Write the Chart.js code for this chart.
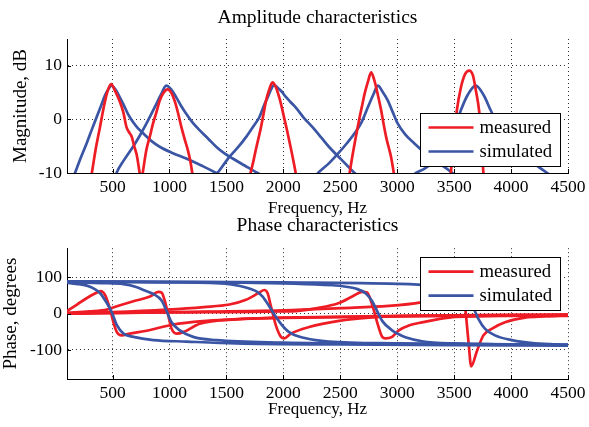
<!DOCTYPE html>
<html><head><meta charset="utf-8">
<script src="https://cdn.jsdelivr.net/npm/chart.js@4.4.1/dist/chart.umd.min.js"></script>
<style>
html,body{margin:0;padding:0;background:#fff;}
#wrap{position:relative;width:589px;height:427px;overflow:hidden;background:#fff;}
.box{position:absolute;left:0;width:589px;}
canvas{display:block;}
</style></head><body>
<div id="wrap">
<div class="box" style="top:0;height:220px"><canvas id="c1" width="589" height="220"></canvas></div>
<div class="box" style="top:212px;height:215px"><canvas id="c2" width="589" height="215"></canvas></div>
</div>
<script>
// ---------- DATA ----------
const seriesNames = ['measured', 'simulated'];
const freqTicks = [500, 1000, 1500, 2000, 2500, 3000, 3500, 4000, 4500];
const ampTicks = [-10, 0, 10];
const phaseTicks = [-100, 0, 100];

// Amplitude, measured (Hz / dB), one array per resonance
const ampMeasHz1 = [300, 318, 350, 390, 425, 455, 488, 520, 566, 595, 622, 645, 668, 690, 712, 738, 755];
const ampMeasDb1 = [-12, -10, -5.8, -1.4, 2.5, 5.2, 6.6, 5.4, 3.2, 1.3, -1.4, -2.4, -3.2, -5, -6.6, -10, -12.5];
const ampMeasHz2 = [750, 765, 797, 830, 855, 885, 914, 945, 985, 1015, 1045, 1075, 1104, 1135, 1161, 1185, 1200, 1215];
const ampMeasDb2 = [-12, -10, -5.7, -3, -0.8, 1.3, 3.5, 4.9, 5.6, 5.0, 3.5, 1.2, -1.4, -3.8, -5.7, -8, -10, -12];
const ampMeasHz3 = [1690, 1712, 1740, 1760, 1782, 1804, 1826, 1848, 1875, 1905, 1935, 1964, 1986, 2008, 2030, 2051, 2075, 2100, 2125];
const ampMeasDb3 = [-12, -10, -7.5, -5.5, -3.5, -1.4, 1.0, 3.5, 5.5, 6.9, 6.0, 4.1, 2.3, 0.2, -1.8, -3.9, -6.3, -9, -12];
const ampMeasHz4 = [2565, 2582, 2605, 2626, 2650, 2670, 2692, 2714, 2745, 2771, 2795, 2815, 2838, 2859, 2880, 2903, 2925, 2946, 2970, 2985];
const ampMeasDb4 = [-12, -10, -7, -4.5, -1.8, 0.4, 2.6, 4.8, 7.2, 8.8, 7.6, 6.0, 3.8, 1.7, -0.8, -3.3, -5.2, -7, -10, -12];
const ampMeasHz5 = [3460, 3471, 3495, 3524, 3560, 3595, 3632, 3665, 3690, 3720, 3740, 3757, 3770];
const ampMeasDb5 = [-12, -10, -4, 1.7, 6, 8.4, 9.1, 8.2, 5.5, 1.5, -4, -10, -12];

// Amplitude, simulated
const ampSimHz1 = [150, 170, 220, 272, 316, 360, 400, 432, 462, 491, 525, 564, 600, 636, 680, 720, 768, 840, 914, 1030, 1147, 1280, 1410, 1440];
const ampSimDb1 = [-11, -10, -7.2, -4.5, -2, 0.4, 2.6, 4.4, 5.6, 6.3, 5.6, 4.1, 2.6, 1.0, -0.5, -1.6, -2.6, -4, -5.1, -6.3, -7.3, -8.6, -10, -10.4];
const ampSimHz2 = [520, 535, 600, 680, 740, 797, 840, 885, 925, 972, 1015, 1060, 1100, 1147, 1200, 1264, 1340, 1410, 1480, 1555, 1660, 1774, 1800];
const ampSimDb2 = [-11, -10, -7.6, -5.1, -3, -0.8, 1, 2.9, 4.6, 6.3, 5.6, 4.1, 2.6, 1.05, -0.5, -2, -3.6, -5.1, -6.3, -7.3, -8.6, -10, -10.3];
const ampSimHz3 = [1400, 1420, 1526, 1610, 1672, 1730, 1789, 1830, 1862, 1890, 1918, 1950, 1985, 2022, 2065, 2110, 2180, 2254, 2330, 2400, 2510, 2626, 2650];
const ampSimDb3 = [-10.4, -10, -7, -5, -3.3, -1.5, 0.4, 2.6, 4.1, 5.5, 6.4, 5.9, 5.2, 4.2, 3.2, 2.2, 0.3, -1.4, -3.3, -5.1, -7.5, -10, -10.4];
const ampSimHz4 = [2290, 2305, 2400, 2480, 2560, 2626, 2690, 2743, 2790, 2830, 2870, 2918, 2960, 3005, 3070, 3151, 3240, 3326, 3410, 3486, 3500];
const ampSimDb4 = [-10.4, -10, -8.2, -6.4, -4.4, -2.6, -0.4, 2.3, 4.6, 6.3, 5.2, 3.5, 1.4, -0.8, -2.8, -4.5, -6.2, -7.6, -8.8, -10, -10.2];
const ampSimHz5 = [3140, 3165, 3240, 3306, 3400, 3486, 3559, 3620, 3690, 3760, 3821, 3870, 3940, 4010, 4100, 4201, 4318, 4340];
const ampSimDb5 = [-10.4, -10, -9.2, -8.2, -6, -2.8, 1.7, 4.6, 6.3, 4.5, 1.7, -0.4, -2.6, -4.5, -6.4, -8.2, -10, -10.3];

// Phase, measured (Hz / degrees)
const phMeasHz1 = [100, 188, 275, 363, 395, 435, 479, 508, 538, 581, 640, 830, 1033, 1325, 1600, 2000, 3000, 4500];
const phMeasDeg1 = [7, 25, 43, 58, 62, 51, 11, -24, -51, -60, -56, -45, -30, -20, -15, -11, -6, -3];
const phMeasHz2 = [100, 300, 450, 538, 683, 829, 902, 931, 960, 990, 1019, 1062, 1121, 1266, 1588, 2000, 3000, 4500];
const phMeasDeg2 = [2, 6, 11, 20, 34, 47, 60, 58, 34, -6, -42, -55, -51, -28, -16, -12, -8, -5];
const phMeasHz3 = [100, 500, 975, 1300, 1526, 1672, 1789, 1832, 1862, 1891, 1935, 1979, 2008, 2066, 2226, 2489, 2751, 3014, 4500];
const phMeasDeg3 = [0, 4, 11, 18, 25, 38, 58, 65, 56, 20, -33, -64, -68, -55, -37, -20, -11, -7, -3];
const phMeasHz4 = [100, 1000, 2000, 2110, 2300, 2489, 2605, 2693, 2736, 2780, 2824, 2868, 2897, 2955, 3014, 3101, 3218, 3364, 3510, 4000, 4500];
const phMeasDeg4 = [0, 3, 6, 7, 15, 29, 47, 60, 58, 25, -24, -64, -68, -64, -46, -33, -24, -15, -9, -6, -5];
const phMeasHz5 = [100, 1000, 2000, 2500, 2926, 3208, 3400, 3540, 3575, 3597, 3626, 3650, 3699, 3757, 3830, 3947, 4122, 4300, 4500];
const phMeasDeg5 = [0, 4, 9, 15, 21, 31, 46, 60, 58, 16, -77, -145, -104, -60, -42, -24, -11, -8, -6];

// Phase, simulated
const phSimHz1 = [100, 180, 275, 340, 391, 450, 494, 538, 596, 683, 858, 1150, 1588, 2500, 3500, 4500];
const phSimDeg1 = [85, 82, 77, 68, 56, 29, 3, -32, -55, -64, -73, -77, -82, -85, -87, -88];
const phSimHz2 = [100, 400, 596, 700, 771, 858, 931, 975, 1019, 1091, 1208, 1412, 2000, 3000, 4500];
const phSimDeg2 = [87, 84, 81, 74, 65, 54, 36, 7, -24, -46, -64, -73, -80, -84, -87];
const phSimHz3 = [100, 1000, 1526, 1620, 1701, 1770, 1818, 1876, 1920, 1979, 2051, 2197, 2400, 3000, 4500];
const phSimDeg3 = [88, 86, 81, 76, 69, 60, 47, 20, -2, -28, -51, -68, -77, -82, -86];
const phSimHz4 = [100, 1500, 2430, 2550, 2635, 2722, 2780, 2824, 2868, 2955, 3014, 3072, 3218, 3500, 4500];
const phSimDeg4 = [88, 86, 78, 74, 69, 56, 34, 7, -20, -46, -57, -65, -76, -82, -86];
const phSimHz5 = [100, 2000, 3000, 3300, 3500, 3590, 3640, 3670, 3714, 3772, 3859, 4005, 4209, 4500];
const phSimDeg5 = [89, 86, 82, 77, 68, 55, 36, 16, -15, -42, -60, -73, -82, -86];

// ---------- STYLE ----------
const RED = '#ee1c25';
const BLUE = '#3b55a5';
const FONT = "'Liberation Serif', 'Times New Roman', serif";

function pts(xs, ys) { return xs.map((x, i) => ({x: x, y: ys[i]})); }
function line(xs, ys, color) {
  return {data: pts(xs, ys), borderColor: color, backgroundColor: color, borderWidth: 2.7,
    pointRadius: 0, showLine: true, fill: false, cubicInterpolationMode: 'monotone', clip: 0};
}

const legendPlugin = {
  id: 'boxLegend',
  afterDraw(chart, args, opts) {
    const ctx = chart.ctx, ca = chart.chartArea;
    const w = 140, h = 53;
    const x0 = ca.right - 8 - w;
    const y0 = opts.where === 'bottom' ? ca.bottom - 7 - h : ca.top + 9;
    ctx.save();
    ctx.fillStyle = '#fff';
    ctx.fillRect(x0, y0, w, h);
    ctx.strokeStyle = '#000';
    ctx.lineWidth = 1;
    ctx.strokeRect(Math.round(x0) + 0.5, Math.round(y0) + 0.5, w, h);
    const colors = [RED, BLUE];
    ctx.font = '18.7px ' + FONT;
    ctx.textBaseline = 'middle';
    ctx.textAlign = 'left';
    seriesNames.forEach((name, i) => {
      const y = y0 + 14.5 + i * 24;
      ctx.strokeStyle = colors[i];
      ctx.lineWidth = 2.7;
      ctx.beginPath();
      ctx.moveTo(x0 + 8.5, y);
      ctx.lineTo(x0 + 53.5, y);
      ctx.stroke();
      ctx.fillStyle = '#000';
      ctx.fillText(name, x0 + 59.5, y + 0.5);
    });
    ctx.restore();
  }
};

const innerTicks = {
  id: 'innerTicks',
  afterDraw(chart) {
    const ctx = chart.ctx, ca = chart.chartArea;
    const xs = chart.scales.x, ys = chart.scales.y;
    ctx.save();
    ctx.strokeStyle = '#000';
    ctx.lineWidth = 1;
    ctx.beginPath();
    xs.ticks.forEach(t => {
      const px = Math.round(xs.getPixelForValue(t.value)) + 0.5;
      ctx.moveTo(px, ca.bottom); ctx.lineTo(px, ca.bottom - 4);
    });
    ys.ticks.forEach(t => {
      const py = Math.round(ys.getPixelForValue(t.value)) + 0.5;
      ctx.moveTo(ca.left, py); ctx.lineTo(ca.left + 4, py);
    });
    ctx.stroke();
    ctx.restore();
  }
};

function makeChart(id, cfg) {
  return new Chart(document.getElementById(id), {
    type: 'scatter',
    data: {datasets: cfg.datasets},
    plugins: [legendPlugin, innerTicks],
    options: {
      responsive: false, animation: false, devicePixelRatio: 1,
      layout: {padding: {left: 0, right: 19, top: 0, bottom: 0}},
      plugins: {
        legend: {display: false}, tooltip: {enabled: false},
        title: {display: true, text: cfg.title, fullSize: false, color: '#000',
          font: {family: FONT, size: 19.5, weight: 'normal', lineHeight: 1.2},
          padding: {top: cfg.titleTop, bottom: cfg.titleBottom}},
        boxLegend: {where: cfg.legendWhere}
      },
      scales: {
        x: {type: 'linear', min: 100, max: 4500,
          afterBuildTicks: s => { s.ticks = freqTicks.map(v => ({value: v})); },
          afterFit: s => { s.height = cfg.xHeight; },
          ticks: {color: '#000', font: {family: FONT, size: 17.5}, padding: cfg.xTickPad, maxRotation: 0, autoSkip: false,
            callback: v => String(v)},
          grid: {color: 'rgba(0,0,0,0.8)', lineWidth: 1, drawTicks: false},
          border: {display: true, color: '#000', width: 1, dash: [1, 3]},
          title: {display: true, text: 'Frequency, Hz', color: '#000', font: {family: FONT, size: 17, lineHeight: 1.2},
            padding: {top: 0, bottom: cfg.xTitleBottom}}
        },
        y: {type: 'linear', min: cfg.ymin, max: cfg.ymax,
          afterBuildTicks: s => { s.ticks = cfg.yTicks.map(v => ({value: v})); },
          afterFit: s => { s.width = 67; },
          ticks: {color: '#000', font: {family: FONT, size: 17.5}, padding: 5, callback: v => String(v)},
          grid: {color: 'rgba(0,0,0,0.8)', lineWidth: 1, drawTicks: false},
          border: {display: true, color: '#000', width: 1, dash: [1, 3]},
          title: {display: true, text: cfg.yTitle, color: '#000', font: {family: FONT, size: 19, lineHeight: 1.2},
            padding: {top: cfg.yTitleTop, bottom: 0}}
        }
      }
    }
  });
}

makeChart('c1', {
  title: 'Amplitude characteristics', titleTop: 6.3, titleBottom: 9.3,
  xHeight: 47, xTickPad: 3.5, xTitleBottom: 1.4,
  ymin: -10, ymax: 15, yTicks: ampTicks, yTitle: 'Magnitude, dB', yTitleTop: 9.6,
  legendWhere: 'bottom',
  datasets: [
    line(ampMeasHz1, ampMeasDb1, RED), line(ampMeasHz2, ampMeasDb2, RED), line(ampMeasHz3, ampMeasDb3, RED),
    line(ampMeasHz4, ampMeasDb4, RED), line(ampMeasHz5, ampMeasDb5, RED),
    line(ampSimHz1, ampSimDb1, BLUE), line(ampSimHz2, ampSimDb2, BLUE), line(ampSimHz3, ampSimDb3, BLUE),
    line(ampSimHz4, ampSimDb4, BLUE), line(ampSimHz5, ampSimDb5, BLUE)
  ]
});

makeChart('c2', {
  title: 'Phase characteristics', titleTop: 2.4, titleBottom: 10.4,
  xHeight: 48, xTickPad: 3.5, xTitleBottom: 7.4,
  ymin: -180, ymax: 180, yTicks: phaseTicks, yTitle: 'Phase, degrees', yTitleTop: 0,
  legendWhere: 'top',
  datasets: [
    line(phSimHz1, phSimDeg1, BLUE), line(phSimHz2, phSimDeg2, BLUE), line(phSimHz3, phSimDeg3, BLUE),
    line(phSimHz4, phSimDeg4, BLUE), line(phSimHz5, phSimDeg5, BLUE),
    line(phMeasHz1, phMeasDeg1, RED), line(phMeasHz2, phMeasDeg2, RED), line(phMeasHz3, phMeasDeg3, RED),
    line(phMeasHz4, phMeasDeg4, RED), line(phMeasHz5, phMeasDeg5, RED)
  ]
});
</script>
</body></html>
